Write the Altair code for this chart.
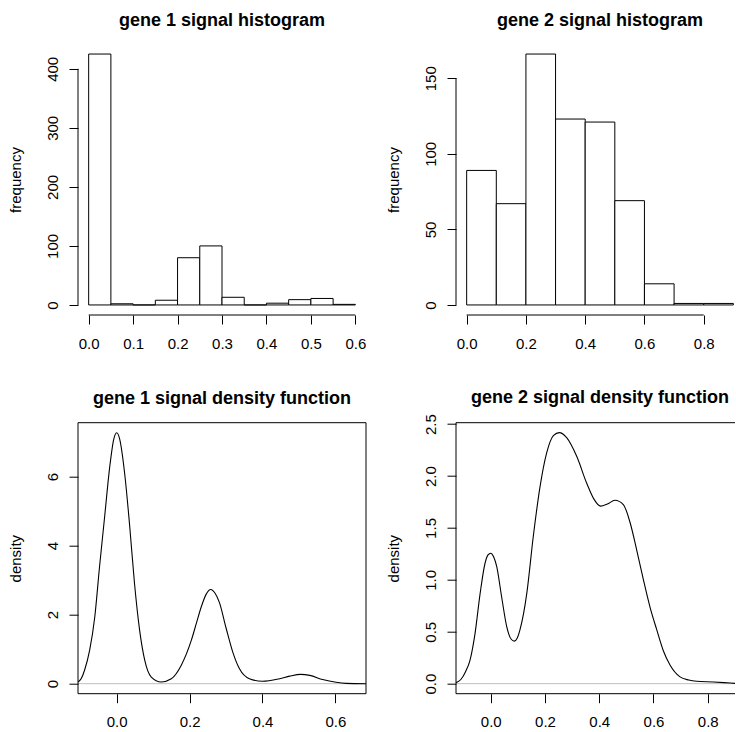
import altair as alt
import pandas as pd

FONT = "Liberation Sans"

# ---------------- data ----------------
# gene 1 histogram (bin width 0.05)
g1_bin_start = [0.00, 0.05, 0.10, 0.15, 0.20, 0.25, 0.30, 0.35, 0.40, 0.45, 0.50, 0.55]
g1_bin_end = [0.05, 0.10, 0.15, 0.20, 0.25, 0.30, 0.35, 0.40, 0.45, 0.50, 0.55, 0.60]
g1_counts = [425, 2, 0, 8, 80, 100, 13, 0, 3, 9, 11, 1]

# gene 2 histogram (bin width 0.1)
g2_bin_start = [0.0, 0.1, 0.2, 0.3, 0.4, 0.5, 0.6, 0.7, 0.8]
g2_bin_end = [0.1, 0.2, 0.3, 0.4, 0.5, 0.6, 0.7, 0.8, 0.9]
g2_counts = [89, 67, 166, 123, 121, 69, 14, 1, 1]

# gene 1 density curve
g1_dens_x = [-0.106, -0.097, -0.088, -0.074, -0.060, -0.047, -0.033, -0.019, -0.008,
             0.000, 0.008, 0.022, 0.036, 0.049, 0.063, 0.077, 0.095, 0.122, 0.150,
             0.177, 0.205, 0.220, 0.232, 0.245, 0.258, 0.270, 0.282, 0.300, 0.319,
             0.337, 0.364, 0.400, 0.447, 0.475, 0.505, 0.530, 0.565, 0.602, 0.629, 0.684]
g1_dens_y = [0.05, 0.15, 0.39, 0.97, 1.93, 3.38, 4.83, 6.28, 7.08,
             7.27, 7.10, 6.09, 4.54, 2.90, 1.55, 0.68, 0.19, 0.05, 0.145,
             0.53, 1.26, 1.80, 2.22, 2.58, 2.73, 2.62, 2.35, 1.62, 0.90,
             0.43, 0.145, 0.07, 0.145, 0.22, 0.27, 0.24, 0.12, 0.04, 0.01, 0.00]

# gene 2 density curve
g2_dens_x = [-0.128, -0.110, -0.092, -0.076, -0.058, -0.039, -0.021, -0.010, 0.000, 0.011,
             0.022, 0.040, 0.059, 0.075, 0.087, 0.098, 0.108, 0.133, 0.157, 0.182,
             0.206, 0.231, 0.253, 0.280, 0.317, 0.354, 0.380, 0.405, 0.430, 0.458,
             0.489, 0.514, 0.538, 0.563, 0.587, 0.612, 0.636, 0.661, 0.698, 0.730,
             0.759, 0.821, 0.860, 0.901]
g2_dens_y = [0.01, 0.04, 0.12, 0.23, 0.48, 0.87, 1.16, 1.24, 1.257, 1.22,
             1.13, 0.84, 0.55, 0.43, 0.41, 0.44, 0.52, 0.87, 1.42, 1.90,
             2.22, 2.39, 2.418, 2.37, 2.19, 1.93, 1.78, 1.71, 1.73, 1.767,
             1.725, 1.55, 1.29, 1.00, 0.74, 0.52, 0.32, 0.18, 0.065, 0.035,
             0.023, 0.016, 0.010, 0.003]

# axis ticks
g1_hist_xticks = [0.0, 0.1, 0.2, 0.3, 0.4, 0.5, 0.6]
g1_hist_yticks = [0, 100, 200, 300, 400]
g2_hist_xticks = [0.0, 0.2, 0.4, 0.6, 0.8]
g2_hist_yticks = [0, 50, 100, 150]
g1_dens_xticks = [0.0, 0.2, 0.4, 0.6]
g1_dens_yticks = [0, 2, 4, 6]
g2_dens_xticks = [0.0, 0.2, 0.4, 0.6, 0.8]
g2_dens_yticks = [0.0, 0.5, 1.0, 1.5, 2.0, 2.5]

# ---------------- layout ----------------
W = 288      # left panels plot width
WR = 279     # right panels (cut by the picture edge)
H = 271
TITLE_OFFSET = 0


def one_row():
    return alt.Data(values=[{"k": 1}])


def x_axis(values):
    return alt.Axis(values=values, format=".1f", title=None, labelAngle=0,
                    labelPadding=24, labelBaseline="alphabetic", labelAlign="center")


def y_axis(values, fmt, title):
    return alt.Axis(values=values, format=fmt, title=title,
                    labelAngle=270, labelAlign="center", labelBaseline="alphabetic",
                    labelPadding=12,
                    titleAngle=270, titleAlign="center", titleBaseline="alphabetic",
                    titleX=-58, titleY=H / 2)


def title(text, dx, dy=0):
    return alt.TitleParams(text=text, font=FONT, fontSize=18, fontWeight="bold",
                           color="black", anchor="middle", frame="group",
                           baseline="alphabetic", offset=TITLE_OFFSET, dx=dx, dy=dy)


def hist_panel(starts, ends, counts, xdom, ydom, xticks, yticks, xline, yline,
               ttl, width, dx):
    df = pd.DataFrame({"start": starts, "end": ends, "count": counts,
                       "zero": [0] * len(counts)})
    xs = alt.Scale(domain=xdom, nice=False, zero=False)
    ys = alt.Scale(domain=ydom, nice=False, zero=False)
    xa = x_axis(xticks)
    ya = y_axis(yticks, "d", "frequency")
    bars = alt.Chart(df).mark_rect(fill="white", stroke="black", strokeWidth=1).encode(
        x=alt.X("start:Q", scale=xs, axis=xa),
        x2="end:Q",
        y=alt.Y("count:Q", scale=ys, axis=ya),
        y2="zero:Q",
    )
    xrule = alt.Chart(one_row()).mark_rule(color="black", strokeWidth=1).encode(
        x=alt.XDatum(xline[0], type="quantitative", scale=xs, axis=xa),
        x2=alt.X2Datum(xline[1]),
        y=alt.value(H),
    )
    yrule = alt.Chart(one_row()).mark_rule(color="black", strokeWidth=1).encode(
        y=alt.YDatum(yline[0], type="quantitative", scale=ys, axis=ya),
        y2=alt.Y2Datum(yline[1]),
        x=alt.value(0),
    )
    return alt.layer(bars, xrule, yrule).properties(
        width=width, height=H, title=title(ttl, dx))


def dens_panel(xv, yv, xdom, ydom, xticks, yticks, yfmt, ttl, width, dx, dy,
               right_side):
    df = pd.DataFrame({"x": xv, "y": yv})
    xs = alt.Scale(domain=xdom, nice=False, zero=False)
    ys = alt.Scale(domain=ydom, nice=False, zero=False)
    xa = x_axis(xticks)
    ya = y_axis(yticks, yfmt, "density")
    zero = alt.Chart(one_row()).mark_rule(color="#BEBEBE", strokeWidth=1).encode(
        y=alt.YDatum(0, type="quantitative", scale=ys, axis=ya),
        x=alt.value(0),
        x2=alt.value(width),
    )
    curve = alt.Chart(df).mark_line(color="black", strokeWidth=1.1,
                                     interpolate="monotone", clip=True).encode(
        x=alt.X("x:Q", scale=xs, axis=xa),
        y=alt.Y("y:Q", scale=ys, axis=ya),
        order="x:Q",
    )
    box = [
        alt.Chart(one_row()).mark_rule(color="black", strokeWidth=1).encode(
            x=alt.value(0), x2=alt.value(width), y=alt.value(0)),
        alt.Chart(one_row()).mark_rule(color="black", strokeWidth=1).encode(
            x=alt.value(0), x2=alt.value(width), y=alt.value(H)),
        alt.Chart(one_row()).mark_rule(color="black", strokeWidth=1).encode(
            x=alt.value(0), y=alt.value(0), y2=alt.value(H)),
    ]
    if right_side:
        box.append(alt.Chart(one_row()).mark_rule(color="black", strokeWidth=1).encode(
            x=alt.value(width), y=alt.value(0), y2=alt.value(H)))
    return alt.layer(zero, curve, *box).properties(
        width=width, height=H, title=title(ttl, dx, dy))


p1 = hist_panel(g1_bin_start, g1_bin_end, g1_counts, [-0.024, 0.624], [-17, 442],
                g1_hist_xticks, g1_hist_yticks, [0.0, 0.6], [0, 400],
                "gene 1 signal histogram", W, 0)
p2 = hist_panel(g2_bin_start, g2_bin_end, g2_counts, [-0.036, 0.9056], [-6.64, 172.64],
                g2_hist_xticks, g2_hist_yticks, [0.0, 0.8], [0, 150],
                "gene 2 signal histogram", WR, 4.5)
p3 = dens_panel(g1_dens_x, g1_dens_y, [-0.106, 0.684], [-0.29, 7.56],
                g1_dens_xticks, g1_dens_yticks, "d",
                "gene 1 signal density function", W, 0, 0, True)
p4 = dens_panel(g2_dens_x, g2_dens_y, [-0.128, 0.9006], [-0.0967, 2.514],
                g2_dens_xticks, g2_dens_yticks, ".1f",
                "gene 2 signal density function", WR, 4.5, 7, False)

chart = alt.concat(
    p1, p2, p3, p4, columns=2,
    spacing={"row": 107.7, "column": 90},
    bounds="flush", align="each",
).configure_view(stroke=None).configure_axis(
    domain=False, grid=False,
    ticks=True, tickSize=9, tickColor="black", tickWidth=1,
    labelFont=FONT, labelFontSize=15, labelColor="black",
    labelFlush=False, labelOverlap=False,
    titleFont=FONT, titleFontSize=15, titleFontWeight="normal", titleColor="black",
).properties(
    padding={"left": 8, "top": 12, "right": 0, "bottom": 0},
    background="white",
)

chart.save("out.html", embed_options={"renderer": "svg", "actions": False})
